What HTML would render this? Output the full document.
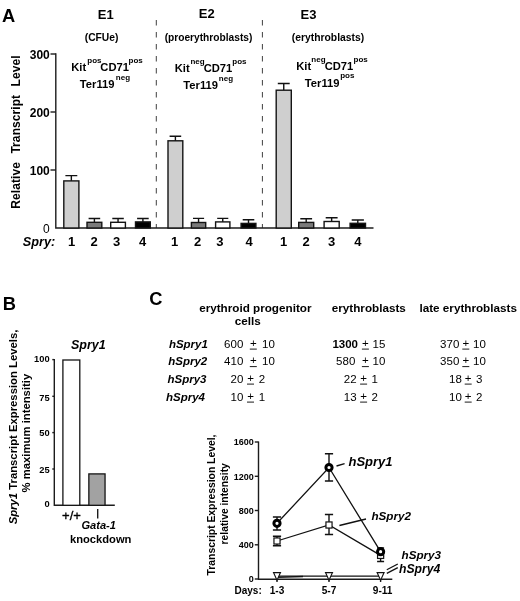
<!DOCTYPE html>
<html><head><meta charset="utf-8"><title>Figure</title>
<style>
html,body{margin:0;padding:0;background:#fff;}
body{width:520px;height:601px;overflow:hidden;}
svg{display:block;font-family:"Liberation Sans",sans-serif;fill:#000;}
.b{font-weight:bold}
.bi{font-weight:bold;font-style:italic}
.ax{stroke:#1c1c1c;stroke-width:1.4;fill:none}
.eb{stroke:#111;stroke-width:1.4;fill:none}
.ln{stroke:#111;stroke-width:1.3;fill:none}
.m{text-anchor:middle}
.e{text-anchor:end}
</style></head><body>
<svg width="520" height="601" viewBox="0 0 520 601">
<rect width="520" height="601" fill="#fff"/>

<g id="panelA">
<text class="b" x="2" y="21.9" font-size="18.3">A</text>
<text class="b m" x="105.8" y="18.8" font-size="13">E1</text>
<text class="b m" x="206.8" y="17.8" font-size="13">E2</text>
<text class="b m" x="308.5" y="18.8" font-size="13">E3</text>
<text class="b m" x="101.6" y="41" font-size="10.3">(CFUe)</text>
<text class="b m" x="208.5" y="41" font-size="10.2">(proerythroblasts)</text>
<text class="b m" x="328" y="41" font-size="10.35">(erythroblasts)</text>
<text class="b" x="71.2" y="70.8" font-size="11.2">Kit</text>
<text class="b" x="87.3" y="63.199999999999996" font-size="8">pos</text>
<text class="b" x="100.3" y="70.8" font-size="11.2">CD71</text>
<text class="b" x="128.6" y="63.199999999999996" font-size="8">pos</text>
<text class="b" x="79.8" y="88" font-size="11.2">Ter119</text>
<text class="b" x="115.8" y="79.7" font-size="8">neg</text>
<text class="b" x="174.7" y="71.5" font-size="11.2">Kit</text>
<text class="b" x="190.4" y="63.9" font-size="8">neg</text>
<text class="b" x="203.7" y="71.5" font-size="11.2">CD71</text>
<text class="b" x="232.3" y="63.9" font-size="8">pos</text>
<text class="b" x="183.3" y="88.8" font-size="11.2">Ter119</text>
<text class="b" x="218.8" y="80.5" font-size="8">neg</text>
<text class="b" x="296.2" y="69.7" font-size="11.2">Kit</text>
<text class="b" x="311.3" y="62.1" font-size="8">neg</text>
<text class="b" x="324.7" y="69.7" font-size="11.2">CD71</text>
<text class="b" x="353.6" y="62.1" font-size="8">pos</text>
<text class="b" x="304.8" y="86.5" font-size="11.2">Ter119</text>
<text class="b" x="340.2" y="78.2" font-size="8">pos</text>
<line x1="156.3" y1="20" x2="156.3" y2="228" stroke="#2a2a2a" stroke-width="0.9" stroke-dasharray="5.5 6.5"/>
<line x1="262.4" y1="20" x2="262.4" y2="228" stroke="#2a2a2a" stroke-width="0.9" stroke-dasharray="5.5 6.5"/>
<path class="ax" d="M55.8 53.3V228H373.5" stroke-width="1.5"/>
<line class="ax" x1="50.5" y1="54" x2="55.8" y2="54"/>
<text class="b e" x="49.8" y="58.6" font-size="12">300</text>
<line class="ax" x1="50.5" y1="112" x2="55.8" y2="112"/>
<text class="b e" x="49.8" y="116.6" font-size="12">200</text>
<line class="ax" x1="50.5" y1="170" x2="55.8" y2="170"/>
<text class="b e" x="49.8" y="174.6" font-size="12">100</text>
<text class="e" x="49.8" y="233.3" font-size="12">0</text>
<text class="b m" transform="translate(20,132) rotate(-90)" font-size="12" word-spacing="5" letter-spacing="0.08">Relative Transcript Level</text>
<path class="eb" d="M71.35 181.2V175.6M65.4 175.6H77.3"/>
<rect x="63.80" y="180.90" width="15.10" height="47.10" fill="#cfcfcf" stroke="#141414" stroke-width="1.4"/>
<path class="eb" d="M94.4 222.6V218.5M88.6 218.5H100.2"/>
<rect x="87.00" y="222.30" width="14.80" height="5.70" fill="#7a7a7a" stroke="#141414" stroke-width="1.4"/>
<path class="eb" d="M118.05 222.6V218.5M112.3 218.5H123.8"/>
<rect x="110.70" y="222.30" width="14.70" height="5.70" fill="#fff" stroke="#141414" stroke-width="1.4"/>
<path class="eb" d="M142.9 222.2V218.5M137.1 218.5H148.7"/>
<rect x="135.50" y="221.90" width="14.80" height="6.10" fill="#000" stroke="#141414" stroke-width="1.4"/>
<path class="eb" d="M175.4 141.1V136.2M169.6 136.2H181.2"/>
<rect x="168.00" y="140.80" width="14.80" height="87.20" fill="#cfcfcf" stroke="#141414" stroke-width="1.4"/>
<path class="eb" d="M198.55 222.8V218.4M193.0 218.4H204.1"/>
<rect x="191.40" y="222.50" width="14.30" height="5.50" fill="#7a7a7a" stroke="#141414" stroke-width="1.4"/>
<path class="eb" d="M222.75 222.2V218.4M217.2 218.4H228.3"/>
<rect x="215.60" y="221.90" width="14.30" height="6.10" fill="#fff" stroke="#141414" stroke-width="1.4"/>
<path class="eb" d="M248.5 223.7V219.7M242.7 219.7H254.3"/>
<rect x="241.10" y="223.40" width="14.80" height="4.60" fill="#000" stroke="#141414" stroke-width="1.4"/>
<path class="eb" d="M283.75 90.5V83.5M277.8 83.5H289.7"/>
<rect x="276.20" y="90.20" width="15.10" height="137.80" fill="#cfcfcf" stroke="#141414" stroke-width="1.4"/>
<path class="eb" d="M306.2 222.7V218.7M300.3 218.7H312.1"/>
<rect x="298.70" y="222.40" width="15.00" height="5.60" fill="#7a7a7a" stroke="#141414" stroke-width="1.4"/>
<path class="eb" d="M331.65 221.8V217.8M325.7 217.8H337.6"/>
<rect x="324.10" y="221.50" width="15.10" height="6.50" fill="#fff" stroke="#141414" stroke-width="1.4"/>
<path class="eb" d="M357.8 223.6V220M351.7 220H363.9"/>
<rect x="350.10" y="223.30" width="15.40" height="4.70" fill="#000" stroke="#141414" stroke-width="1.4"/>
<text class="b m" x="71.5" y="245.9" font-size="13">1</text>
<text class="b m" x="94.2" y="245.9" font-size="13">2</text>
<text class="b m" x="116.7" y="245.9" font-size="13">3</text>
<text class="b m" x="142.7" y="245.9" font-size="13">4</text>
<text class="b m" x="174.5" y="245.9" font-size="13">1</text>
<text class="b m" x="197.6" y="245.9" font-size="13">2</text>
<text class="b m" x="219.8" y="245.9" font-size="13">3</text>
<text class="b m" x="249" y="245.9" font-size="13">4</text>
<text class="b m" x="283.7" y="245.9" font-size="13">1</text>
<text class="b m" x="306.2" y="245.9" font-size="13">2</text>
<text class="b m" x="331.5" y="245.9" font-size="13">3</text>
<text class="b m" x="357.8" y="245.9" font-size="13">4</text>
<text class="bi" x="22.8" y="246" font-size="12.7">Spry:</text>
</g>
<g id="panelB">
<text class="b" x="2.7" y="309.8" font-size="18.3">B</text>
<text class="bi m" x="88.3" y="349.1" font-size="12.5">Spry1</text>
<path class="ax" d="M54.3 359V505.3H114.8"/>
<line class="ax" x1="52.3" y1="359.6" x2="54.3" y2="359.6"/>
<text class="b e" x="49.6" y="361.8" font-size="9.3">100</text>
<line class="ax" x1="52.3" y1="396.3" x2="54.3" y2="396.3"/>
<text class="b e" x="49.6" y="400.6" font-size="9.3">75</text>
<line class="ax" x1="52.3" y1="432.6" x2="54.3" y2="432.6"/>
<text class="b e" x="49.6" y="435.90000000000003" font-size="9.3">50</text>
<line class="ax" x1="52.3" y1="469" x2="54.3" y2="469"/>
<text class="b e" x="49.6" y="472.8" font-size="9.3">25</text>
<text class="b e" x="49.6" y="507.0" font-size="9.3">0</text>
<rect x="62.9" y="360" width="16.9" height="145.3" fill="#fff" stroke="#141414" stroke-width="1.3"/>
<rect x="88.85" y="473.9" width="16.2" height="31.4" fill="#a2a2a2" stroke="#141414" stroke-width="1.3"/>
<text class="b m" transform="translate(16.9,427) rotate(-90)" font-size="11.3"><tspan font-style="italic">Spry1</tspan> Transcript Expression Levels,</text>
<text class="b m" transform="translate(29.6,433.1) rotate(-90)" font-size="11.3">% maximum intensitiy</text>
<text class="m" x="71.5" y="519.6" font-size="13" stroke="#000" stroke-width="0.35">+/+</text>
<line class="ax" x1="97.7" y1="509" x2="97.7" y2="518.5" stroke-width="1.1"/>
<text class="bi m" x="98.7" y="529.2" font-size="11.1">Gata-1</text>
<text class="b m" x="100.7" y="542.8" font-size="11.2">knockdown</text>
</g>
<g id="panelC">
<text class="b" x="149.3" y="304.6" font-size="18.3">C</text>
<text class="b m" x="255.3" y="311.6" font-size="11.7">erythroid progenitor</text>
<text class="b m" x="247.8" y="325.2" font-size="11.7">cells</text>
<text class="b m" x="368.8" y="311.6" font-size="11.7">erythroblasts</text>
<text class="b m" x="468.2" y="311.6" font-size="11.7">late erythroblasts</text>
<text class="bi" x="168.9" y="347.5" font-size="11.5">hSpry1</text>
<text class="bi" x="168.2" y="365" font-size="11.5">hSpry2</text>
<text class="bi" x="167.5" y="382.5" font-size="11.5">hSpry3</text>
<text class="bi" x="166" y="400.5" font-size="11.5">hSpry4</text>
<text x="243.3" y="347.5" font-size="11.5" text-anchor="end">600</text>
<text x="253.3" y="346.9" font-size="11.5" class="m">+</text>
<line x1="249.8" y1="349.1" x2="256.8" y2="349.1" stroke="#000" stroke-width="0.9"/>
<text x="262" y="347.5" font-size="11.5">10</text>
<text x="243.3" y="365" font-size="11.5" text-anchor="end">410</text>
<text x="253.3" y="364.4" font-size="11.5" class="m">+</text>
<line x1="249.8" y1="366.6" x2="256.8" y2="366.6" stroke="#000" stroke-width="0.9"/>
<text x="262" y="365" font-size="11.5">10</text>
<text x="243.3" y="382.5" font-size="11.5" text-anchor="end">20</text>
<text x="250.5" y="381.9" font-size="11.5" class="m">+</text>
<line x1="247.0" y1="384.1" x2="254.0" y2="384.1" stroke="#000" stroke-width="0.9"/>
<text x="258.7" y="382.5" font-size="11.5">2</text>
<text x="243.3" y="400.5" font-size="11.5" text-anchor="end">10</text>
<text x="250.5" y="399.9" font-size="11.5" class="m">+</text>
<line x1="247.0" y1="402.1" x2="254.0" y2="402.1" stroke="#000" stroke-width="0.9"/>
<text x="258.7" y="400.5" font-size="11.5">1</text>
<text class="b" x="358" y="347.5" font-size="11.5" text-anchor="end">1300</text>
<text x="365.4" y="346.9" font-size="11.5" class="m">+</text>
<line x1="361.9" y1="349.1" x2="368.9" y2="349.1" stroke="#000" stroke-width="0.9"/>
<text x="372.5" y="347.5" font-size="11.5">15</text>
<text x="355.3" y="365" font-size="11.5" text-anchor="end">580</text>
<text x="365.4" y="364.4" font-size="11.5" class="m">+</text>
<line x1="361.9" y1="366.6" x2="368.9" y2="366.6" stroke="#000" stroke-width="0.9"/>
<text x="372.5" y="365" font-size="11.5">10</text>
<text x="356.6" y="382.5" font-size="11.5" text-anchor="end">22</text>
<text x="363.6" y="381.9" font-size="11.5" class="m">+</text>
<line x1="360.1" y1="384.1" x2="367.1" y2="384.1" stroke="#000" stroke-width="0.9"/>
<text x="371.5" y="382.5" font-size="11.5">1</text>
<text x="356.6" y="400.5" font-size="11.5" text-anchor="end">13</text>
<text x="363.6" y="399.9" font-size="11.5" class="m">+</text>
<line x1="360.1" y1="402.1" x2="367.1" y2="402.1" stroke="#000" stroke-width="0.9"/>
<text x="371.5" y="400.5" font-size="11.5">2</text>
<text x="459.3" y="347.5" font-size="11.5" text-anchor="end">370</text>
<text x="465.8" y="346.9" font-size="11.5" class="m">+</text>
<line x1="462.3" y1="349.1" x2="469.3" y2="349.1" stroke="#000" stroke-width="0.9"/>
<text x="473" y="347.5" font-size="11.5">10</text>
<text x="459.3" y="365" font-size="11.5" text-anchor="end">350</text>
<text x="465.8" y="364.4" font-size="11.5" class="m">+</text>
<line x1="462.3" y1="366.6" x2="469.3" y2="366.6" stroke="#000" stroke-width="0.9"/>
<text x="473" y="365" font-size="11.5">10</text>
<text x="461.8" y="382.5" font-size="11.5" text-anchor="end">18</text>
<text x="468.2" y="381.9" font-size="11.5" class="m">+</text>
<line x1="464.7" y1="384.1" x2="471.7" y2="384.1" stroke="#000" stroke-width="0.9"/>
<text x="476" y="382.5" font-size="11.5">3</text>
<text x="461.8" y="400.5" font-size="11.5" text-anchor="end">10</text>
<text x="468.2" y="399.9" font-size="11.5" class="m">+</text>
<line x1="464.7" y1="402.1" x2="471.7" y2="402.1" stroke="#000" stroke-width="0.9"/>
<text x="476" y="400.5" font-size="11.5">2</text>
<path class="ax" d="M258.5 441.5V579.2H392.3"/>
<line class="ax" x1="254.8" y1="442.0" x2="258.5" y2="442.0"/>
<text class="b e" x="253.8" y="445.2" font-size="9">1600</text>
<line class="ax" x1="254.8" y1="476.3" x2="258.5" y2="476.3"/>
<text class="b e" x="253.8" y="479.5" font-size="9">1200</text>
<line class="ax" x1="254.8" y1="510.5" x2="258.5" y2="510.5"/>
<text class="b e" x="253.8" y="513.7" font-size="9">800</text>
<line class="ax" x1="254.8" y1="544.8" x2="258.5" y2="544.8"/>
<text class="b e" x="253.8" y="548.0" font-size="9">400</text>
<line class="ax" x1="254.8" y1="579.0" x2="258.5" y2="579.0"/>
<text class="b e" x="253.8" y="582.2" font-size="9">0</text>
<line class="ax" x1="277" y1="579" x2="277" y2="582" stroke-width="1.1"/>
<line class="ax" x1="329" y1="579" x2="329" y2="582" stroke-width="1.1"/>
<line class="ax" x1="380.6" y1="579" x2="380.6" y2="582" stroke-width="1.1"/>
<text class="b m" transform="translate(214.7,505) rotate(-90)" font-size="10.35">Transcript Expression Level,</text>
<text class="b m" transform="translate(228,503.8) rotate(-90)" font-size="10.3">relative intensity</text>
<text class="b" x="234.5" y="594" font-size="10">Days:</text>
<text class="b m" x="277" y="594" font-size="10.1">1-3</text>
<text class="b m" x="329" y="594" font-size="10.1">5-7</text>
<text class="b m" x="382.6" y="594" font-size="10.1">9-11</text>
<path class="eb" stroke-width="1.2" d="M277 517V530M272.9 517H281.1M272.9 530H281.1"/>
<path class="eb" stroke-width="1.2" d="M329 453.7V481M324.9 453.7H333.1M324.9 481H333.1"/>
<path class="eb" stroke-width="1.2" d="M380.6 548V556M377.1 548H384.1M377.1 556H384.1"/>
<path class="eb" stroke-width="1.2" d="M277 536.3V545.7M272.9 536.3H281.1M272.9 545.7H281.1"/>
<path class="eb" stroke-width="1.2" d="M329 514.5V534.5M324.9 514.5H333.1M324.9 534.5H333.1"/>
<path class="eb" stroke-width="1.2" d="M380.6 550V561.5M377.1 550H384.1M377.1 561.5H384.1"/>
<polyline class="ln" points="277,523.3 329,467.5 380.6,551.7"/>
<polyline class="ln" points="277,541 329,525 380.6,555.4"/>
<line class="ln" x1="277" y1="576.1" x2="380.6" y2="576.1" stroke-width="1"/>
<line class="ln" x1="277" y1="577.3" x2="303" y2="576.5" stroke-width="0.7"/>
<rect x="273.95" y="537.95" width="6.1" height="6.1" fill="#fff" stroke="#111" stroke-width="1.2"/>
<rect x="325.95" y="521.95" width="6.1" height="6.1" fill="#fff" stroke="#111" stroke-width="1.2"/>
<rect x="377.55" y="552.35" width="6.1" height="6.1" fill="#fff" stroke="#111" stroke-width="1.2"/>
<circle cx="277" cy="523.3" r="3.1" fill="#fff" stroke="#000" stroke-width="3"/>
<circle cx="329" cy="467.5" r="3.1" fill="#fff" stroke="#000" stroke-width="3"/>
<circle cx="380.6" cy="551.7" r="3.1" fill="#fff" stroke="#000" stroke-width="3"/>
<path d="M273.5 572.6H280.5L277 580.2Z" fill="#fff" stroke="#111" stroke-width="1.1"/>
<path d="M325.5 572.6H332.5L329 580.2Z" fill="#fff" stroke="#111" stroke-width="1.1"/>
<path d="M377.1 572.6H384.1L380.6 580.2Z" fill="#fff" stroke="#111" stroke-width="1.1"/>
<line class="ln" x1="336.5" y1="466" x2="344.6" y2="463.7"/>
<line class="ln" x1="339.4" y1="525.5" x2="366" y2="519"/>
<line class="ln" x1="386.8" y1="569.8" x2="397.8" y2="564"/>
<line class="ln" x1="386.8" y1="573.3" x2="397.8" y2="567.7"/>
<text class="bi" x="348.5" y="465.5" font-size="13">hSpry1</text>
<text class="bi" x="371.4" y="520" font-size="11.7">hSpry2</text>
<text class="bi" x="401.5" y="558.7" font-size="11.7">hSpry3</text>
<text class="bi" x="399" y="573.2" font-size="12.2">hSpry4</text>
</g>
</svg></body></html>
